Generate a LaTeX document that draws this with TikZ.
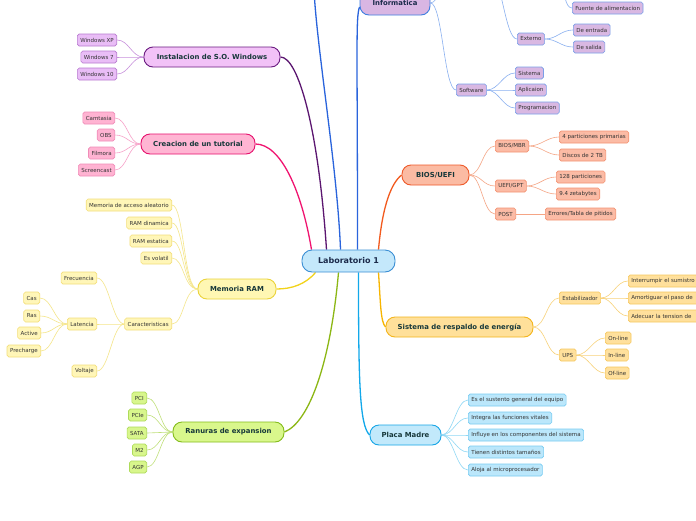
\documentclass[tikz,border=0pt]{standalone}
\usepackage{fontspec}
\setmainfont{DejaVu Sans}
\pgfdeclarelayer{background}
\pgfdeclarelayer{paper}
\pgfsetlayers{paper,background,main}
\definecolor{labF}{HTML}{C4E8FB}\definecolor{labD}{HTML}{3A8ED4}\definecolor{labT}{HTML}{1B2A4A}
\definecolor{txt}{HTML}{17383A}
\definecolor{infoF}{HTML}{D9B6E3}\definecolor{infoD}{HTML}{3F7FE0}\definecolor{infoL}{HTML}{2A64DC}
\definecolor{infoLF}{HTML}{D9B8E2}\definecolor{infoLD}{HTML}{7A9FE8}\definecolor{infoLL}{HTML}{8AB0F0}
\definecolor{instF}{HTML}{F2C2F7}\definecolor{instD}{HTML}{6A1B80}\definecolor{instL}{HTML}{5B1670}
\definecolor{instLF}{HTML}{E9BDF6}\definecolor{instLD}{HTML}{B87AD0}\definecolor{instLL}{HTML}{C890DC}
\definecolor{creF}{HTML}{FFB5D3}\definecolor{creD}{HTML}{E6106D}\definecolor{creL}{HTML}{F01470}
\definecolor{creLF}{HTML}{FFB3D2}\definecolor{creLD}{HTML}{F08CB8}\definecolor{creLL}{HTML}{F7A0C8}
\definecolor{memF}{HTML}{FFF7B3}\definecolor{memD}{HTML}{EBD33A}\definecolor{memL}{HTML}{F2D31A}
\definecolor{memLF}{HTML}{FFF6B8}\definecolor{memLD}{HTML}{F3DF7A}\definecolor{memLL}{HTML}{F5E68A}
\definecolor{ranF}{HTML}{D9F78C}\definecolor{ranD}{HTML}{84BC1C}\definecolor{ranL}{HTML}{8CB714}
\definecolor{ranLF}{HTML}{D8F68C}\definecolor{ranLD}{HTML}{AEDB5A}\definecolor{ranLL}{HTML}{C0E07A}
\definecolor{plaF}{HTML}{C2E9FB}\definecolor{plaD}{HTML}{16A5E6}\definecolor{plaL}{HTML}{12A8EA}
\definecolor{plaLF}{HTML}{BBE7FB}\definecolor{plaLD}{HTML}{78CCF2}\definecolor{plaLL}{HTML}{90D8F5}
\definecolor{sisF}{HTML}{FFE09A}\definecolor{sisD}{HTML}{F3B51C}\definecolor{sisL}{HTML}{F7B500}
\definecolor{sisLF}{HTML}{FFE09C}\definecolor{sisLD}{HTML}{F6C860}\definecolor{sisLL}{HTML}{F8D27A}
\definecolor{biosF}{HTML}{FBBBA3}\definecolor{biosD}{HTML}{EE5A2A}\definecolor{biosL}{HTML}{F25A1E}
\definecolor{biosLF}{HTML}{FBBBA5}\definecolor{biosLD}{HTML}{F39372}\definecolor{biosLL}{HTML}{F5A585}
\tikzset{
  leaf/.style={draw, rounded corners=1.8pt, line width=0.6pt, minimum height=12pt,
    inner xsep=3pt, inner ysep=0pt, font=\fontsize{5.5}{6.5}\selectfont, text=black!80},
  mainnode/.style={draw, rounded corners=9pt, line width=0.9pt, minimum height=20pt,
    inner xsep=4pt, font=\fontsize{6.9}{8}\selectfont\bfseries, text=txt},
  branch/.style={line width=1.3pt},
  twig/.style={line width=0.6pt},
  infoleaf/.style={leaf, fill=infoLF, draw=infoLD},
  instleaf/.style={leaf, fill=instLF, draw=instLD},
  creleaf/.style={leaf, fill=creLF, draw=creLD},
  memleaf/.style={leaf, fill=memLF, draw=memLD},
  ranleaf/.style={leaf, fill=ranLF, draw=ranLD},
  plaleaf/.style={leaf, fill=plaLF, draw=plaLD},
  sisleaf/.style={leaf, fill=sisLF, draw=sisLD},
  biosleaf/.style={leaf, fill=biosLF, draw=biosLD},
}
\begin{document}
\begin{tikzpicture}[x=1pt,y=-1pt]
\useasboundingbox (0,0) rectangle (696,520);
\begin{pgfonlayer}{paper}
\fill[white] (0,0) rectangle (696,520);
\end{pgfonlayer}

% ---- main nodes
\node[mainnode, fill=labF, draw=labD, minimum width=93pt, minimum height=22pt, rounded corners=10pt,
      font=\fontsize{8}{9}\selectfont\bfseries, text=labT] (lab) at (348.5,261) {Laboratorio 1};
\node[mainnode, fill=infoF, draw=infoD, minimum width=70pt, minimum height=24pt, text=labT] (info) at (395,3) {Informatica};
\node[mainnode, fill=instF, draw=instD, minimum width=136pt] (inst) at (212,57) {Instalacion de S.O. Windows};
\node[mainnode, fill=creF, draw=creD, minimum width=114pt] (cre) at (198,144) {Creacion de un tutorial};
\node[mainnode, fill=memF, draw=memD, minimum width=78pt] (mem) at (237,289) {Memoria RAM};
\node[mainnode, fill=ranF, draw=ranD, minimum width=111pt] (ran) at (228.5,432) {Ranuras de expansion};
\node[mainnode, fill=plaF, draw=plaD, minimum width=71pt] (pla) at (405.5,435) {Placa Madre};
\node[mainnode, fill=sisF, draw=sisD, minimum width=147pt] (sis) at (459.5,327) {Sistema de respaldo de energía};
\node[mainnode, fill=biosF, draw=biosD, minimum width=67pt] (bios) at (435.5,175) {BIOS/UEFI};

% ---- Informatica
\coordinate (hw) at (452,-22);
\coordinate (hwE) at (490,-25);
\coordinate (intE) at (558,-12);
\coordinate (topend) at (314,-10);
\node[infoleaf, anchor=west] (soft) at (456,90) {Software};
\node[infoleaf, anchor=west] (ext) at (517,39) {Externo};
\node[infoleaf, anchor=west] (dent) at (573,30) {De entrada};
\node[infoleaf, anchor=west] (dsal) at (573,47) {De salida};
\node[infoleaf, anchor=west] (fue) at (572,8) {Fuente de alimentacion};
\node[infoleaf, anchor=west] (sist) at (515,73) {Sistema};
\node[infoleaf, anchor=west] (apl) at (515,90) {Aplicaion};
\node[infoleaf, anchor=west] (prog) at (515,108) {Programacion};

% ---- Instalacion
\node[instleaf, anchor=east] (wxp) at (117,40) {Windows XP};
\node[instleaf, anchor=east] (w7) at (117,57) {Windows 7};
\node[instleaf, anchor=east] (w10) at (117,74) {Windows 10};

% ---- Creacion
\node[creleaf, anchor=east] (cam) at (115,118) {Camtasia};
\node[creleaf, anchor=east] (obs) at (115,135) {OBS};
\node[creleaf, anchor=east] (fil) at (115,153) {Filmora};
\node[creleaf, anchor=east] (scr) at (115,170) {Screencast};

% ---- Memoria RAM
\node[memleaf, anchor=east] (maa) at (172,205) {Memoria de acceso aleatorio};
\node[memleaf, anchor=east] (rdin) at (172,223) {RAM dinamica};
\node[memleaf, anchor=east] (rest) at (172,241) {RAM estatica};
\node[memleaf, anchor=east] (vol) at (172,258) {Es volatil};
\node[memleaf, anchor=east] (car) at (172,324) {Caracteristicas};
\node[memleaf, anchor=east] (fre) at (97,278) {Frecuencia};
\node[memleaf, anchor=east] (lat) at (97,324) {Latencia};
\node[memleaf, anchor=east] (volt) at (97,371) {Voltaje};
\node[memleaf, anchor=east] (cas) at (40,298) {Cas};
\node[memleaf, anchor=east] (ras) at (40,316) {Ras};
\node[memleaf, anchor=east] (act) at (41,333) {Active};
\node[memleaf, anchor=east] (pre) at (41,351) {Precharge};

% ---- Ranuras
\node[ranleaf, anchor=east] (pci) at (147,398) {PCI};
\node[ranleaf, anchor=east] (pcie) at (147,415) {PCIe};
\node[ranleaf, anchor=east] (sata) at (147,433) {SATA};
\node[ranleaf, anchor=east] (m2) at (147,450) {M2};
\node[ranleaf, anchor=east] (agp) at (147,467) {AGP};

% ---- Placa Madre
\node[plaleaf, anchor=west] (p1) at (468,400) {Es el sustento general del equipo};
\node[plaleaf, anchor=west] (p2) at (468,418) {Integra las funciones vitales};
\node[plaleaf, anchor=west] (p3) at (468,435) {Influye en los componentes del sistema};
\node[plaleaf, anchor=west] (p4) at (468,452) {Tienen distintos tamaños};
\node[plaleaf, anchor=west] (p5) at (468,470) {Aloja al microprocesador};

% ---- Sistema de respaldo
\node[sisleaf, anchor=west] (est) at (559,298) {Estabilizador};
\node[sisleaf, anchor=west] (ups) at (559,355) {UPS};
\node[sisleaf, anchor=west, text width=80pt, align=left] (e1) at (628,281) {Interrumpir el sumistro};
\node[sisleaf, anchor=west, text width=80pt, align=left] (e2) at (628,298) {Amortiguar el paso de};
\node[sisleaf, anchor=west, text width=80pt, align=left] (e3) at (628,316) {Adecuar la tension de};
\node[sisleaf, anchor=west] (u1) at (605,338) {On-line};
\node[sisleaf, anchor=west] (u2) at (605,355) {In-line};
\node[sisleaf, anchor=west] (u3) at (605,373) {Of-line};

% ---- BIOS
\node[biosleaf, anchor=west] (mbr) at (495,146) {BIOS/MBR};
\node[biosleaf, anchor=west] (gpt) at (495,186) {UEFI/GPT};
\node[biosleaf, anchor=west] (post) at (495,214) {POST};
\node[biosleaf, anchor=west] (b1) at (559,137) {4 particiones primarias};
\node[biosleaf, anchor=west] (b2) at (559,155) {Discos de 2 TB};
\node[biosleaf, anchor=west] (b3) at (556,177) {128 particiones};
\node[biosleaf, anchor=west] (b4) at (556,194) {9.4 zetabytes};
\node[biosleaf, anchor=west] (b5) at (545,214) {Errores/Tabla de pitidos};

\begin{pgfonlayer}{background}
% main branches
\draw[branch, creL] ([xshift=-37pt]lab.north) .. controls +(-10,-60) and +(25,0) .. (cre.east);
\draw[branch, instL] ([xshift=-22pt]lab.north) .. controls +(-8,-120) and +(18,0) .. (inst.east);
\draw[branch, infoL] ([xshift=-8pt]lab.north) .. controls +(-3,-80) and +(3,60) .. (topend);
\draw[branch, infoL] ([xshift=9pt]lab.north) .. controls +(0,-200) and +(-4,10) .. ([yshift=-4pt]info.west);
\draw[branch, biosL] ([xshift=30pt]lab.north) .. controls +(4,-45) and +(-10,8) .. (bios.west);
\draw[branch, memL] ([xshift=-33pt]lab.south) .. controls +(-10,12) and +(15,0) .. (mem.east);
\draw[branch, ranL] ([xshift=-10pt]lab.south) .. controls +(-8,90) and +(25,-10) .. (ran.east);
\draw[branch, plaL] ([xshift=10pt]lab.south) .. controls +(0,110) and +(-10,-10) .. (pla.west);
\draw[branch, sisL] ([xshift=30pt]lab.south) .. controls +(2,30) and +(-5,-5) .. (sis.west);

% Informatica twigs
\draw[twig, infoLL] (info.east) .. controls +(8,0) and +(-8,0) .. (hw);
\draw[twig, infoLL] (info.east) .. controls +(12,0) and +(-12,0) .. (soft.west);
\draw[twig, infoLL] (hwE) .. controls +(12,0) and +(-12,0) .. (ext.west);
\draw[twig, infoLL] (intE) .. controls +(8,0) and +(-8,0) .. (fue.west);
\foreach \c in {dent,dsal} \draw[twig, infoLL] (ext.east) .. controls +(12,0) and +(-12,0) .. (\c.west);
\foreach \c in {sist,apl,prog} \draw[twig, infoLL] (soft.east) .. controls +(12,0) and +(-12,0) .. (\c.west);

% left twigs
\foreach \c in {wxp,w7,w10} \draw[twig, instLL] (inst.west) .. controls +(-12,0) and +(12,0) .. (\c.east);
\foreach \c in {cam,obs,fil,scr} \draw[twig, creLL] (cre.west) .. controls +(-12,0) and +(12,0) .. (\c.east);
\foreach \c in {maa,rdin,rest,vol,car} \draw[twig, memLL] (mem.west) .. controls +(-14,0) and +(12,0) .. (\c.east);
\foreach \c in {fre,lat,volt} \draw[twig, memLL] (car.west) .. controls +(-12,0) and +(12,0) .. (\c.east);
\foreach \c in {cas,ras,act,pre} \draw[twig, memLL] (lat.west) .. controls +(-12,0) and +(12,0) .. (\c.east);
\foreach \c in {pci,pcie,sata,m2,agp} \draw[twig, ranLL] (ran.west) .. controls +(-12,0) and +(12,0) .. (\c.east);

% right twigs
\foreach \c in {p1,p2,p3,p4,p5} \draw[twig, plaLL] (pla.east) .. controls +(12,0) and +(-12,0) .. (\c.west);
\foreach \c in {est,ups} \draw[twig, sisLL] (sis.east) .. controls +(12,0) and +(-12,0) .. (\c.west);
\foreach \c in {e1,e2,e3} \draw[twig, sisLL] (est.east) .. controls +(12,0) and +(-12,0) .. (\c.west);
\foreach \c in {u1,u2,u3} \draw[twig, sisLL] (ups.east) .. controls +(12,0) and +(-12,0) .. (\c.west);
\foreach \c in {mbr,gpt,post} \draw[twig, biosLL] (bios.east) .. controls +(12,0) and +(-12,0) .. (\c.west);
\foreach \c in {b1,b2} \draw[twig, biosLL] (mbr.east) .. controls +(12,0) and +(-12,0) .. (\c.west);
\foreach \c in {b3,b4} \draw[twig, biosLL] (gpt.east) .. controls +(12,0) and +(-12,0) .. (\c.west);
\draw[twig, biosLL] (post.east) -- (b5.west);
\end{pgfonlayer}
\end{tikzpicture}
\end{document}
